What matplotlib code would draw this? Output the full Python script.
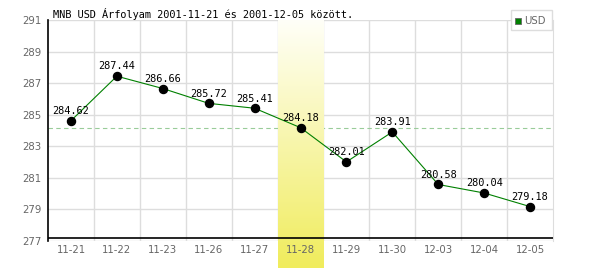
import numpy as np
import matplotlib
matplotlib.use("Agg")
import matplotlib.pyplot as plt
from matplotlib.patches import Rectangle

title = "MNB USD Árfolyam 2001-11-21 és 2001-12-05 között."
categories = ["11-21", "11-22", "11-23", "11-26", "11-27", "11-28",
              "11-29", "11-30", "12-03", "12-04", "12-05"]
values = [284.62, 287.44, 286.66, 285.72, 285.41, 284.18,
          282.01, 283.91, 280.58, 280.04, 279.18]
highlight_idx = 5
ref_value = values[highlight_idx]
yticks = [277, 279, 281, 283, 285, 287, 289, 291]
series_name = "USD"

W, H = 600, 270
fig = plt.figure(figsize=(W / 100, H / 100), dpi=100)
L, R, T, B = 48, 553, 20, 241
ax = fig.add_axes([L / W, 1 - B / H, (R - L) / W, (B - T) / H])

n = len(categories)
x = np.arange(n)
ax.set_xlim(-0.5, n - 0.5)
ax.set_ylim(yticks[0], yticks[-1])

# grid
for yt in yticks:
    ax.axhline(yt, color="#dddddd", lw=1, zorder=0)
for i in range(1, n):
    ax.axvline(i - 0.5, color="#dddddd", lw=1, zorder=0)

# reference dashed line
ax.axhline(ref_value, color="#99cc99", lw=0.8, ls=(0, (4, 3)), zorder=1)

# highlight gradient column
ppy = (B - T) / (yticks[-1] - yticks[0])
ybot = yticks[0] - (268 - B) / ppy
grad = np.linspace(0, 1, 256).reshape(-1, 1)
top_c = np.array([255, 255, 248]) / 255
bot_c = np.array([240, 236, 92]) / 255
img = top_c[None, None, :] * (1 - grad[:, :, None]) + bot_c[None, None, :] * grad[:, :, None]
ax.imshow(img, extent=[highlight_idx - 0.5, highlight_idx + 0.5, ybot, yticks[-1]],
          origin="upper", aspect="auto", zorder=2, clip_on=False)
ax.set_xlim(-0.5, n - 0.5)
ax.set_ylim(yticks[0], yticks[-1])

# x axis black line slightly above bottom
ax.axhline(yticks[0] + 3 / ppy, color="black", lw=1.2, zorder=3)

# data line
ax.plot(x, values, color="#008000", lw=0.8, zorder=4)
ax.plot(x, values, "o", color="black", ms=5.8, zorder=5)
for xi, v in zip(x, values):
    ax.annotate(f"{v:.2f}", (xi, v), xytext=(0, 7), textcoords="offset points",
                ha="center", va="center", fontsize=7.4, family="DejaVu Sans Mono",
                color="black", zorder=6)

# spines
for s in ["top", "bottom"]:
    ax.spines[s].set_visible(False)
ax.spines["left"].set_color("black")
ax.spines["left"].set_linewidth(1.2)
ax.spines["left"].set_zorder(3.5)
ax.spines["right"].set_color("#dddddd")

ax.set_xticks(x)
ax.set_xticklabels(categories)
ax.set_yticks(yticks)
ax.tick_params(axis="both", length=0, labelsize=7.3, colors="#666666")
ax.tick_params(axis="x", pad=3)
ax.tick_params(axis="y", pad=4.5)
ax.xaxis.set_zorder(3.2)
ax.yaxis.set_zorder(3.2)

# title
fig.text(53 / W, 1 - 14 / H, title, ha="left", va="center", fontsize=7.4,
         family="DejaVu Sans Mono", color="black")

# legend (manual)
fig.patches.append(Rectangle((511 / W, 1 - 30 / H), 41 / W, 20 / H,
                             transform=fig.transFigure, facecolor="white",
                             edgecolor="#dddddd", lw=1, zorder=10))
fig.patches.append(Rectangle((515 / W, 1 - 24 / H), 6 / W, 6 / H,
                             transform=fig.transFigure, facecolor="#008000",
                             edgecolor="#666666", lw=0.6, zorder=11))
fig.text(524 / W, 1 - 20.5 / H, series_name, ha="left", va="center", fontsize=7.3,
         color="#666666", zorder=12)

fig.savefig("out.png", dpi=100)
